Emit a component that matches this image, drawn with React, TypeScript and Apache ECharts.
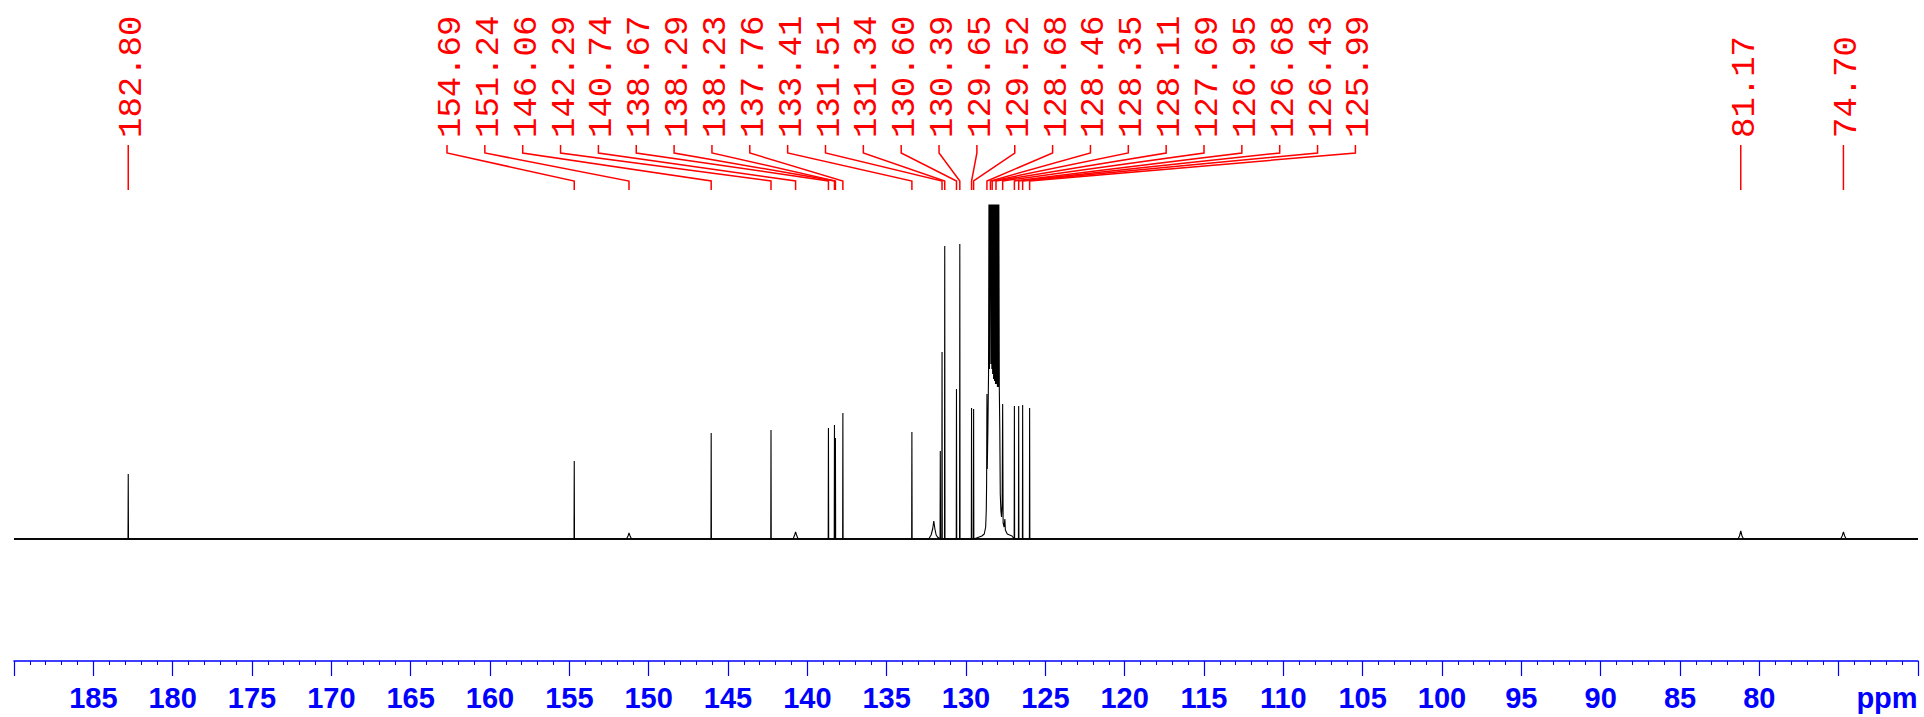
import React, { useEffect, useRef } from "react";
import * as echarts from "echarts";

// ---- axis ----
const X_MIN = 70;
const X_MAX = 190;
const X_INTERVAL = 5;
const HIDDEN_TICK_LABELS = [190, 75, 70];
const AXIS_UNIT = "ppm";

// ---- sharp peaks (ppm, intensity) ----
const sharpPpm = [182.8, 154.69, 146.06, 142.29, 138.67, 138.29, 138.23, 137.76, 133.41, 131.62, 131.51, 131.34, 130.6, 130.39, 129.65, 129.52, 126.95, 126.68, 126.43, 125.99];
const sharpHeight = [65, 78, 106, 109, 111, 114, 101, 126, 107, 88, 187, 293, 150, 295, 131, 130, 133, 133, 134, 131];

// ---- broad features / unresolved cluster, read point by point ----
const broadPpm = [
  151.4, 151.3, 151.24, 151.17, 151.08,
  140.9, 140.8, 140.74, 140.68, 140.58,
  132.35, 132.2, 132.1, 132.03, 131.96, 131.88, 131.8,
  129.0, 128.85, 128.76, 128.72, 128.7, 128.68, 128.66, 128.62, 128.58, 128.55, 128.52, 128.49, 128.46, 128.43, 128.4, 128.37, 128.35, 128.32, 128.29, 128.26, 128.23, 128.2, 128.17, 128.14, 128.11, 128.08, 128.05, 128.02, 127.99, 127.96, 127.93, 127.9, 127.87, 127.84, 127.8, 127.76, 127.72, 127.69, 127.66, 127.6, 127.55, 127.52, 127.4, 127.1,
  81.35, 81.25, 81.17, 81.09, 80.99,
  74.88, 74.78, 74.7, 74.62, 74.52,
];
const broadHeight = [
  0, 3, 6, 3, 0,
  0, 4, 7, 4, 0,
  0, 4, 10, 18, 10, 4, 2,
  3, 5, 12, 30, 57, 145, 70, 110, 165, 360, 170, 360, 420, 175, 360, 170, 400, 165, 360, 160, 360, 158, 360, 155, 380, 155, 360, 152, 360, 152, 340, 150, 110, 45, 28, 22, 35, 135, 16, 12, 20, 9, 5, 3,
  0, 3, 8, 3, 0,
  0, 3, 7, 3, 0,
];

// baseline (noise band) endpoints
const baselinePpm = [190, 70];
const baselineValue = [0, 0];

// ---- peak labels ----
const singleLabels = ["182.80", "81.17", "74.70"];
const groupLabels = ["154.69", "151.24", "146.06", "142.29", "140.74", "138.67", "138.29", "138.23", "137.76", "133.41", "131.51", "131.34", "130.60", "130.39", "129.65", "129.52", "128.68", "128.46", "128.35", "128.11", "127.69", "126.95", "126.68", "126.43", "125.99"];

// layout constants (pixels)
const COL_START = 447;
const COL_STEP = 37.85;
const LEADER_TOP = 145;
const LEADER_BEND = 153;
const LEADER_KNEE = 181;
const LEADER_BOTTOM = 190;
const TEXT_BOTTOM = 138;

function buildSpectrum(): number[][] {
  const pts: number[][] = [[X_MAX, 0], [X_MIN, 0]];
  const d = 0.015;
  sharpPpm.forEach((p, i) => {
    pts.push([p + d, 0], [p, sharpHeight[i]], [p - d, 0]);
  });
  broadPpm.forEach((p, i) => pts.push([p, broadHeight[i]]));
  pts.sort((a, b) => b[0] - a[0]);
  return pts;
}

export default function App() {
  const ref = useRef<HTMLDivElement>(null);
  useEffect(() => {
    if (!ref.current) return;
    const chart = echarts.init(ref.current, null, { renderer: "svg" });
    const labelTexts = [...singleLabels, ...groupLabels];
    const labelData = labelTexts.map((t) => {
      const gi = groupLabels.indexOf(t);
      return [parseFloat(t), gi];
    });
    chart.setOption({
      animation: false,
      backgroundColor: "#ffffff",
      grid: { left: 14, right: 6, top: 205, bottom: 56 },
      xAxis: {
        type: "value",
        min: X_MIN,
        max: X_MAX,
        interval: X_INTERVAL,
        inverse: true,
        splitLine: { show: false },
        axisLine: { show: true, onZero: false, lineStyle: { color: "#0000ff", width: 1.5 } },
        axisTick: { show: true, length: 15, lineStyle: { color: "#0000ff", width: 1.2 } },
        minorTick: { show: true, splitNumber: 5, length: 4, lineStyle: { color: "#0000ff", width: 1 } },
        axisLabel: {
          margin: 22,
          color: "#0000ff",
          fontSize: 29,
          fontWeight: "bold",
          fontFamily: '"Liberation Sans", Arial, sans-serif',
          formatter: (v: number) => (HIDDEN_TICK_LABELS.includes(v) ? "" : String(v)),
        },
      },
      yAxis: { type: "value", min: -122, max: 334, show: false },
      graphic: [
        {
          type: "text",
          x: 1887,
          y: 697.5,
          style: {
            text: AXIS_UNIT,
            fill: "#0000ff",
            font: 'bold 29px "Liberation Sans", Arial, sans-serif',
            align: "center",
            verticalAlign: "middle",
          },
        },
      ],
      series: [
        {
          type: "line",
          data: baselinePpm.map((p, i) => [p, baselineValue[i]]),
          showSymbol: false,
          symbol: "none",
          lineStyle: { color: "#111111", width: 2.2 },
          silent: true,
        },
        {
          type: "line",
          data: buildSpectrum(),
          showSymbol: false,
          symbol: "none",
          clip: true,
          lineStyle: { color: "#000000", width: 1.1 },
          silent: true,
        },
        {
          type: "custom",
          coordinateSystem: "cartesian2d",
          clip: false,
          silent: true,
          data: labelData,
          encode: { x: 0, y: 1 },
          renderItem: (params: any, api: any) => {
            const i = params.dataIndex;
            const ppm = api.value(0);
            const col = api.value(1);
            const px = api.coord([ppm, 0])[0];
            const cx = col < 0 ? px : COL_START + col * COL_STEP;
            const pts =
              col < 0
                ? [[px, LEADER_TOP], [px, LEADER_BOTTOM]]
                : [[cx, LEADER_TOP], [cx, LEADER_BEND], [px, LEADER_KNEE], [px, LEADER_BOTTOM]];
            return {
              type: "group",
              children: [
                {
                  type: "polyline",
                  shape: { points: pts },
                  style: { stroke: "#ff0000", lineWidth: 1.5, fill: "none" },
                },
                {
                  type: "text",
                  x: cx + 4,
                  y: TEXT_BOTTOM,
                  rotation: Math.PI / 2,
                  style: {
                    text: labelTexts[i],
                    fill: "#ff0000",
                    font: '34px "Liberation Mono", "Courier New", monospace',
                    align: "left",
                    verticalAlign: "middle",
                  },
                },
              ],
            };
          },
        },
      ],
    });
    return () => chart.dispose();
  }, []);
  return (
    <div
      ref={ref}
      style={{ position: "fixed", left: 0, top: 0, width: 1924, height: 717 }}
    />
  );
}
